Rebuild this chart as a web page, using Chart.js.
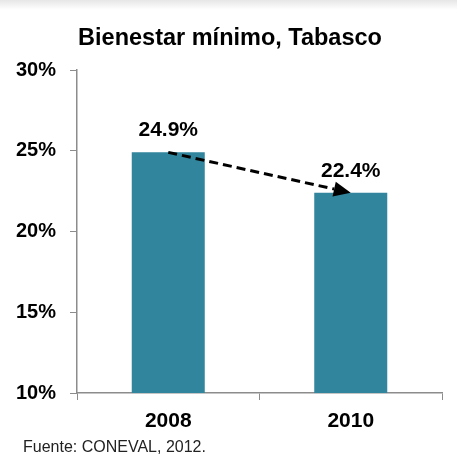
<!DOCTYPE html>
<html><head><meta charset="utf-8">
<script src="https://cdn.jsdelivr.net/npm/chart.js@4/dist/chart.umd.min.js"></script>
<style>html,body{margin:0;padding:0;background:#fff;}#wrap{width:457px;height:459px;position:relative;}</style>
</head><body><div id="wrap"><canvas id="c" width="457" height="459"></canvas></div>
<script>
const categories = ['2008', '2010'];
const values = [24.9, 22.4];
const valueLabels = ['24.9%', '22.4%'];
const yTicks = [10, 15, 20, 25, 30];
const titleText = 'Bienestar mínimo, Tabasco';
const sourceText = 'Fuente: CONEVAL, 2012.';

const FONT = '"Liberation Sans", Arial, sans-serif';
const axisGray = '#8c8c8c';

const deco = {
  id: 'deco',
  beforeDraw(chart) {
    const ctx = chart.ctx;
    ctx.save();
    const g = ctx.createLinearGradient(0, 0, 0, 10);
    g.addColorStop(0, '#e6e6e6');
    g.addColorStop(1, '#ffffff');
    ctx.fillStyle = g;
    ctx.fillRect(0, 0, chart.width, 10);
    ctx.restore();
  },
  afterDraw(chart) {
    const ctx = chart.ctx;
    const meta = chart.getDatasetMeta(0);
    ctx.save();
    // title
    ctx.fillStyle = '#000';
    ctx.font = 'bold 23.5px ' + FONT;
    ctx.textAlign = 'center';
    ctx.textBaseline = 'middle';
    ctx.fillText(titleText, 230, 39);
    // value labels
    ctx.font = 'bold 21px ' + FONT;
    meta.data.forEach((bar, i) => {
      ctx.fillText(valueLabels[i], bar.x, bar.y - 22);
    });
    // arrow
    const p0 = meta.data[0], p1 = meta.data[1];
    const x0 = p0.x, y0 = p0.y, x1 = p1.x, y1 = p1.y;
    const ang = Math.atan2(y1 - y0, x1 - x0);
    const headLen = 17, headW = 7.5;
    const bx = x1 - headLen * Math.cos(ang), by = y1 - headLen * Math.sin(ang);
    ctx.strokeStyle = '#000';
    ctx.lineWidth = 3;
    ctx.setLineDash([9, 5]);
    ctx.beginPath();
    ctx.moveTo(x0, y0);
    ctx.lineTo(bx, by);
    ctx.stroke();
    ctx.setLineDash([]);
    ctx.fillStyle = '#000';
    ctx.beginPath();
    ctx.moveTo(x1, y1);
    ctx.lineTo(bx + headW * Math.sin(ang), by - headW * Math.cos(ang));
    ctx.lineTo(bx - headW * Math.sin(ang), by + headW * Math.cos(ang));
    ctx.closePath();
    ctx.fill();
    // source
    ctx.font = '16px ' + FONT;
    ctx.fillStyle = '#222';
    ctx.textAlign = 'left';
    ctx.fillText(sourceText, 23, 448);
    ctx.restore();
  }
};

new Chart(document.getElementById('c'), {
  type: 'bar',
  data: {
    labels: categories,
    datasets: [{
      data: values,
      backgroundColor: '#31859c',
      borderWidth: 0,
      barPercentage: 0.4,
      categoryPercentage: 1.0
    }]
  },
  options: {
    responsive: false,
    animation: false,
    events: [],
    layout: { padding: { left: 0, right: 15, top: 70, bottom: 0 } },
    plugins: { legend: { display: false }, title: { display: false }, tooltip: { enabled: false } },
    scales: {
      x: {
        grid: { display: true, drawOnChartArea: false, drawTicks: true, tickLength: 7, color: axisGray, offset: true },
        border: { display: true, color: axisGray, width: 1.5 },
        ticks: { color: '#000', font: { family: FONT, size: 21, weight: 'bold' }, padding: 9 },
        afterFit(s) { s.height = 66; }
      },
      y: {
        min: 10, max: 30,
        afterBuildTicks(s) { s.ticks = yTicks.map(v => ({ value: v })); },
        grid: { display: true, drawOnChartArea: false, drawTicks: true, tickLength: 7, color: axisGray },
        border: { display: true, color: axisGray, width: 1.5 },
        ticks: { color: '#000', font: { family: FONT, size: 20, weight: 'bold' }, padding: 14,
          callback: v => v + '%' },
        afterFit(s) { s.width = 77; }
      }
    }
  },
  plugins: [deco]
});
</script></body></html>
